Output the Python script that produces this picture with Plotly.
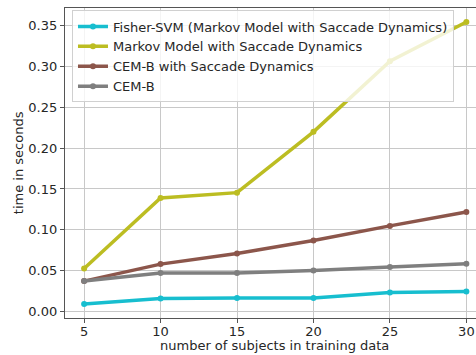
import plotly.graph_objects as go

subjects = [5, 10, 15, 20, 25, 30]
fisher_svm = [0.009, 0.0159, 0.0164, 0.0164, 0.0232, 0.0245]
markov = [0.0526, 0.139, 0.1455, 0.220, 0.3065, 0.3545]
cemb_saccade = [0.0372, 0.058, 0.0709, 0.0868, 0.1048, 0.1219]
cemb = [0.0372, 0.047, 0.047, 0.0501, 0.0543, 0.0583]

series = [
    ("Fisher-SVM (Markov Model with Saccade Dynamics)", fisher_svm, "#17becf"),
    ("Markov Model with Saccade Dynamics", markov, "#bcbd22"),
    ("CEM-B with Saccade Dynamics", cemb_saccade, "#8c564b"),
    ("CEM-B", cemb, "#7f7f7f"),
]

fig = go.Figure()
for name, vals, col in series:
    fig.add_trace(go.Scatter(
        x=subjects, y=vals, name=name, mode="lines+markers",
        line=dict(color=col, width=3.5),
        marker=dict(color=col, size=6),
    ))

font = dict(family="DejaVu Sans", size=13, color="#262626")
fig.update_layout(
    width=476, height=355,
    margin=dict(l=65, r=0, t=8, b=37),
    paper_bgcolor="white", plot_bgcolor="white",
    font=font,
    showlegend=True,
    legend=dict(
        x=0.017, y=0.992, xanchor="left", yanchor="top",
        bgcolor="rgba(255,255,255,0.8)",
        bordercolor="#d0d0d0", borderwidth=1,
        font=font, itemwidth=30, tracegroupgap=0,
    ),
    xaxis=dict(
        range=[3.75, 30.63],
        tickvals=subjects,
        automargin=False,
        showgrid=True, gridcolor="#c8c8c8", gridwidth=1,
        showline=True, linecolor="#555555", linewidth=1.2, mirror=True,
        ticks="outside", ticklen=4, tickcolor="#555555",
        ticklabelstandoff=-3,
        zeroline=False,
    ),
    yaxis=dict(
        range=[-0.008, 0.3716],
        tickvals=[0.0, 0.05, 0.10, 0.15, 0.20, 0.25, 0.30, 0.35],
        ticktext=["0.00", "0.05", "0.10", "0.15", "0.20", "0.25", "0.30", "0.35"],
        automargin=False,
        showgrid=True, gridcolor="#c8c8c8", gridwidth=1,
        showline=True, linecolor="#555555", linewidth=1.2, mirror=False,
        ticks="outside", ticklen=4, tickcolor="#555555",
        zeroline=False,
    ),
    annotations=[
        dict(text="number of subjects in training data", xref="paper", yref="paper",
             x=(274.6 - 65) / 411, y=-0.09, xanchor="center", yanchor="middle",
             showarrow=False, font=font),
        dict(text="time in seconds", xref="paper", yref="paper",
             x=-0.114, y=0.5, xanchor="center", yanchor="middle",
             textangle=-90, showarrow=False, font=font),
    ],
)

fig.write_html(
    "out.html",
    config={"displayModeBar": False},
    post_script="document.body.style.margin='0';document.body.style.overflow='hidden';",
)
